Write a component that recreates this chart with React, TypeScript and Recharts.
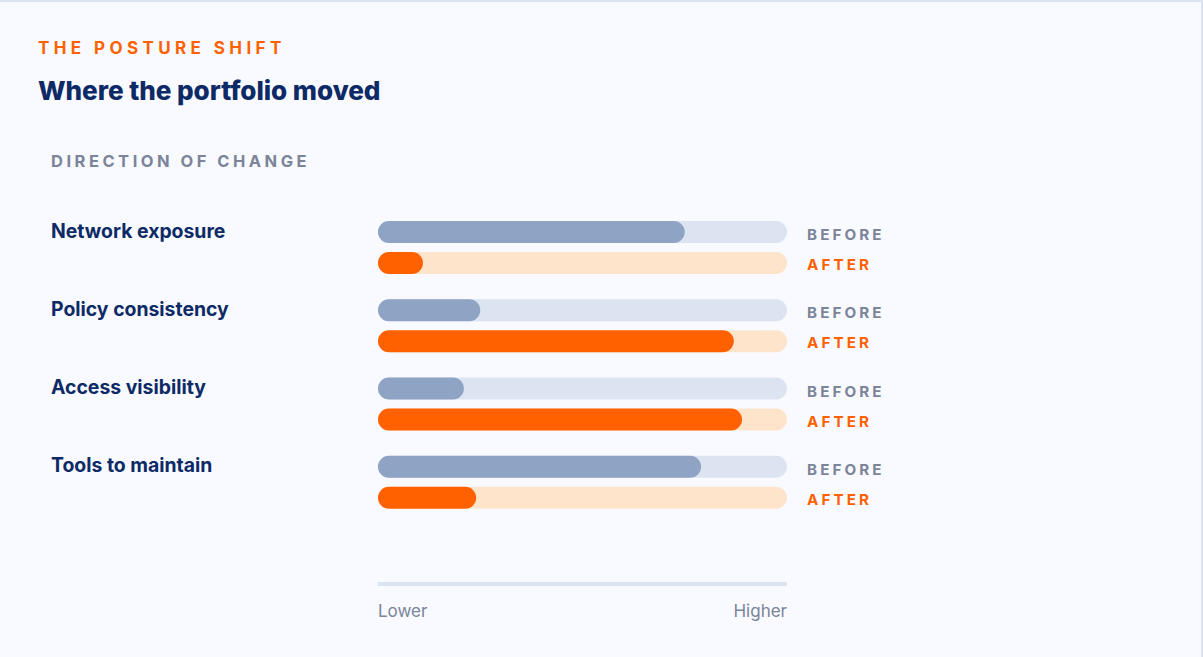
import { Bar, BarChart, XAxis, YAxis } from "recharts";

const categories = ["Network exposure", "Policy consistency", "Access visibility", "Tools to maintain"];
const beforeValues = [75, 25, 21, 79];
const afterValues = [11, 87, 89, 24];
const seriesLabels = ["BEFORE", "AFTER"];
const scaleTicks = [0, 100];
const scaleLabels = ["Lower", "Higher"];

const NAVY = "#0d2a66";
const ORANGE = "#ff6100";
const GRAY = "#7b8499";
const FONT = "Inter, 'Noto Sans', sans-serif";

const data = categories.map((name, i) => ({ name, before: beforeValues[i], after: afterValues[i] }));

function CategoryTick({ x, y, payload }: any) {
  return (
    <text x={x - 325} y={y - 9.5} fill={NAVY} fontFamily={FONT} fontSize={19.4} fontWeight={700}>
      {payload.value}
    </text>
  );
}

function SeriesTick({ x, y }: any) {
  return (
    <g fontFamily={FONT} fontSize={15.2} fontWeight={700} letterSpacing={3.1}>
      <text x={x + 18} y={y - 7} fill={GRAY}>{seriesLabels[0]}</text>
      <text x={x + 18} y={y + 23} fill={ORANGE}>{seriesLabels[1]}</text>
    </g>
  );
}

function ScaleTick({ x, y, payload }: any) {
  const i = scaleTicks.indexOf(payload.value);
  return (
    <text x={x} y={y + 31} textAnchor={i === 0 ? "start" : "end"} fill={GRAY} fontFamily={FONT} fontSize={17}>
      {scaleLabels[i]}
    </text>
  );
}

export default function App() {
  return (
    <div
      style={{
        position: "relative",
        width: 1203,
        height: 657,
        background: "#f8faff",
        boxSizing: "border-box",
        borderTop: "2px solid #dde4f1",
        borderRight: "2px solid #dde4f1",
        overflow: "hidden",
        fontFamily: FONT,
      }}
    >
      <style>{"body{margin:0}"}</style>
      <div style={{ position: "absolute", left: 38, top: 37.6, fontSize: 17, lineHeight: "17px", fontWeight: 700, color: ORANGE, letterSpacing: 4.4 }}>
        THE POSTURE SHIFT
      </div>
      <div style={{ position: "absolute", left: 38, top: 76, fontSize: 26.1, lineHeight: "26.1px", fontWeight: 800, color: NAVY, letterSpacing: -0.05 }}>
        Where the portfolio moved
      </div>
      <div style={{ position: "absolute", left: 51, top: 150.6, fontSize: 16.5, lineHeight: "16.5px", fontWeight: 700, color: GRAY, letterSpacing: 3.5 }}>
        DIRECTION OF CHANGE
      </div>
      <div style={{ position: "absolute", left: 0, top: -2 }}>
        <BarChart
          width={1203}
          height={657}
          data={data}
          layout="vertical"
          margin={{ top: 208, right: 0, bottom: 33, left: 0 }}
          barSize={22}
          barGap={9}
        >
          <XAxis
            type="number"
            domain={[0, 100]}
            ticks={scaleTicks}
            axisLine={{ stroke: "#dde4f1", strokeWidth: 4 }}
            tickLine={false}
            tickSize={0}
            height={40}
            tick={<ScaleTick />}
          />
          <YAxis
            yAxisId="left"
            type="category"
            dataKey="name"
            width={378}
            axisLine={false}
            tickLine={false}
            tickSize={0}
            padding={{ top: 0, bottom: 63 }}
            tick={<CategoryTick />}
          />
          <YAxis
            yAxisId="right"
            orientation="right"
            type="category"
            dataKey="name"
            width={416}
            axisLine={false}
            tickLine={false}
            tickSize={0}
            padding={{ top: 0, bottom: 63 }}
            tick={<SeriesTick />}
          />
          <Bar
            yAxisId="left"
            dataKey="before"
            fill="#8fa3c4"
            radius={11}
            background={{ fill: "#dde4f1", radius: 11 }}
            isAnimationActive={false}
          />
          <Bar
            yAxisId="left"
            dataKey="after"
            fill={ORANGE}
            radius={11}
            background={{ fill: "#ffe4cc", radius: 11 }}
            isAnimationActive={false}
          />
        </BarChart>
      </div>
    </div>
  );
}
